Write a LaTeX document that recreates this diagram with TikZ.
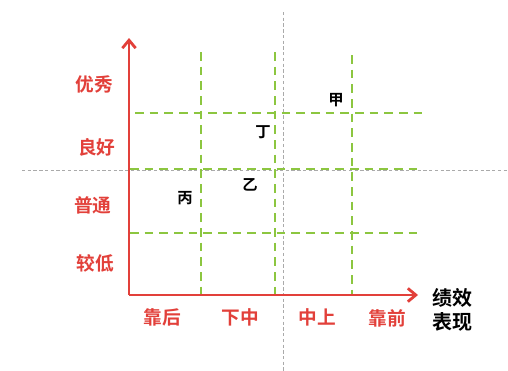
\documentclass[tikz,border=0pt]{standalone}
\usepackage{fontspec}
\newfontfamily\cjk{Noto Sans CJK SC Bold}
\usetikzlibrary{arrows.meta}
\definecolor{axred}{HTML}{E2403A}
\definecolor{grgreen}{HTML}{8CC640}
\definecolor{midgray}{HTML}{AAAAAA}
\tikzset{
  axis/.style={draw=axred, line width=2.1pt, -{Straight Barb[length=6pt,width=10pt,line width=2.1pt]}},
  grid/.style={draw=grgreen, line width=2.2pt, dash pattern=on 6.5pt off 4.5pt},
  midline/.style={draw=midgray, line width=0.75pt, dash pattern=on 2.5pt off 1.8pt},
  rlab/.style={text=axred, font=\cjk\fontsize{14}{16}\selectfont, inner sep=0pt},
  blab/.style={text=black, font=\cjk\fontsize{11.5}{13}\selectfont, inner sep=0pt},
  tlab/.style={text=black, font=\cjk\fontsize{15}{18}\selectfont, inner sep=0pt, align=center}
}
\begin{document}
\begin{tikzpicture}[x=0.75pt,y=-0.75pt]
\useasboundingbox (0,0) rectangle (508,371);
% gray midlines
\coordinate (hl) at (22,170); \coordinate (hr) at (508,170);
\coordinate (vt) at (283,12); \coordinate (vb) at (283,371);
\draw[midline] (hl) -- (hr);
\draw[midline] (vt) -- (vb);
% green grid
\coordinate (g1t) at (201,52); \coordinate (g1b) at (201,295);
\coordinate (g2t) at (275,52); \coordinate (g2b) at (275,295);
\coordinate (g3t) at (352,55); \coordinate (g3b) at (352,295);
\coordinate (h1l) at (135,113); \coordinate (h1r) at (425,113);
\coordinate (h2l) at (130,169); \coordinate (h2r) at (418,169);
\coordinate (h3l) at (130,233); \coordinate (h3r) at (418,233);
\draw[grid] (g1t) -- (g1b);
\draw[grid] (g2t) -- (g2b);
\draw[grid] (g3t) -- (g3b);
\draw[grid] (h1l) -- (h1r);
\draw[grid] (h2l) -- (h2r);
\draw[grid] (h3l) -- (h3r);
% axes
\coordinate (o) at (129,295);
\coordinate (ytip) at (129,38);
\coordinate (xtip) at (418,295);
\draw[axis] (o) -- (ytip);
\draw[axis] (o) -- (xtip);
% y labels
\node[rlab] (y4) at (94,84) {优秀};
\node[rlab] (y3) at (97,147) {良好};
\node[rlab] (y2) at (93,205) {普通};
\node[rlab] (y1) at (95,263) {较低};
% x labels
\node[rlab] (x1) at (162,317) {靠后};
\node[rlab] (x2) at (240,317) {下中};
\node[rlab] (x3) at (317,317) {中上};
\node[rlab] (x4) at (387,318) {靠前};
\node[tlab] (xt) at (452,310) {绩效\\表现};
% points
\node[blab] (jia) at (336,100) {甲};
\node[blab] (ding) at (263,132) {丁};
\node[blab] (yi) at (250,185) {乙};
\node[blab] (bing) at (185,198) {丙};
\end{tikzpicture}
\end{document}
